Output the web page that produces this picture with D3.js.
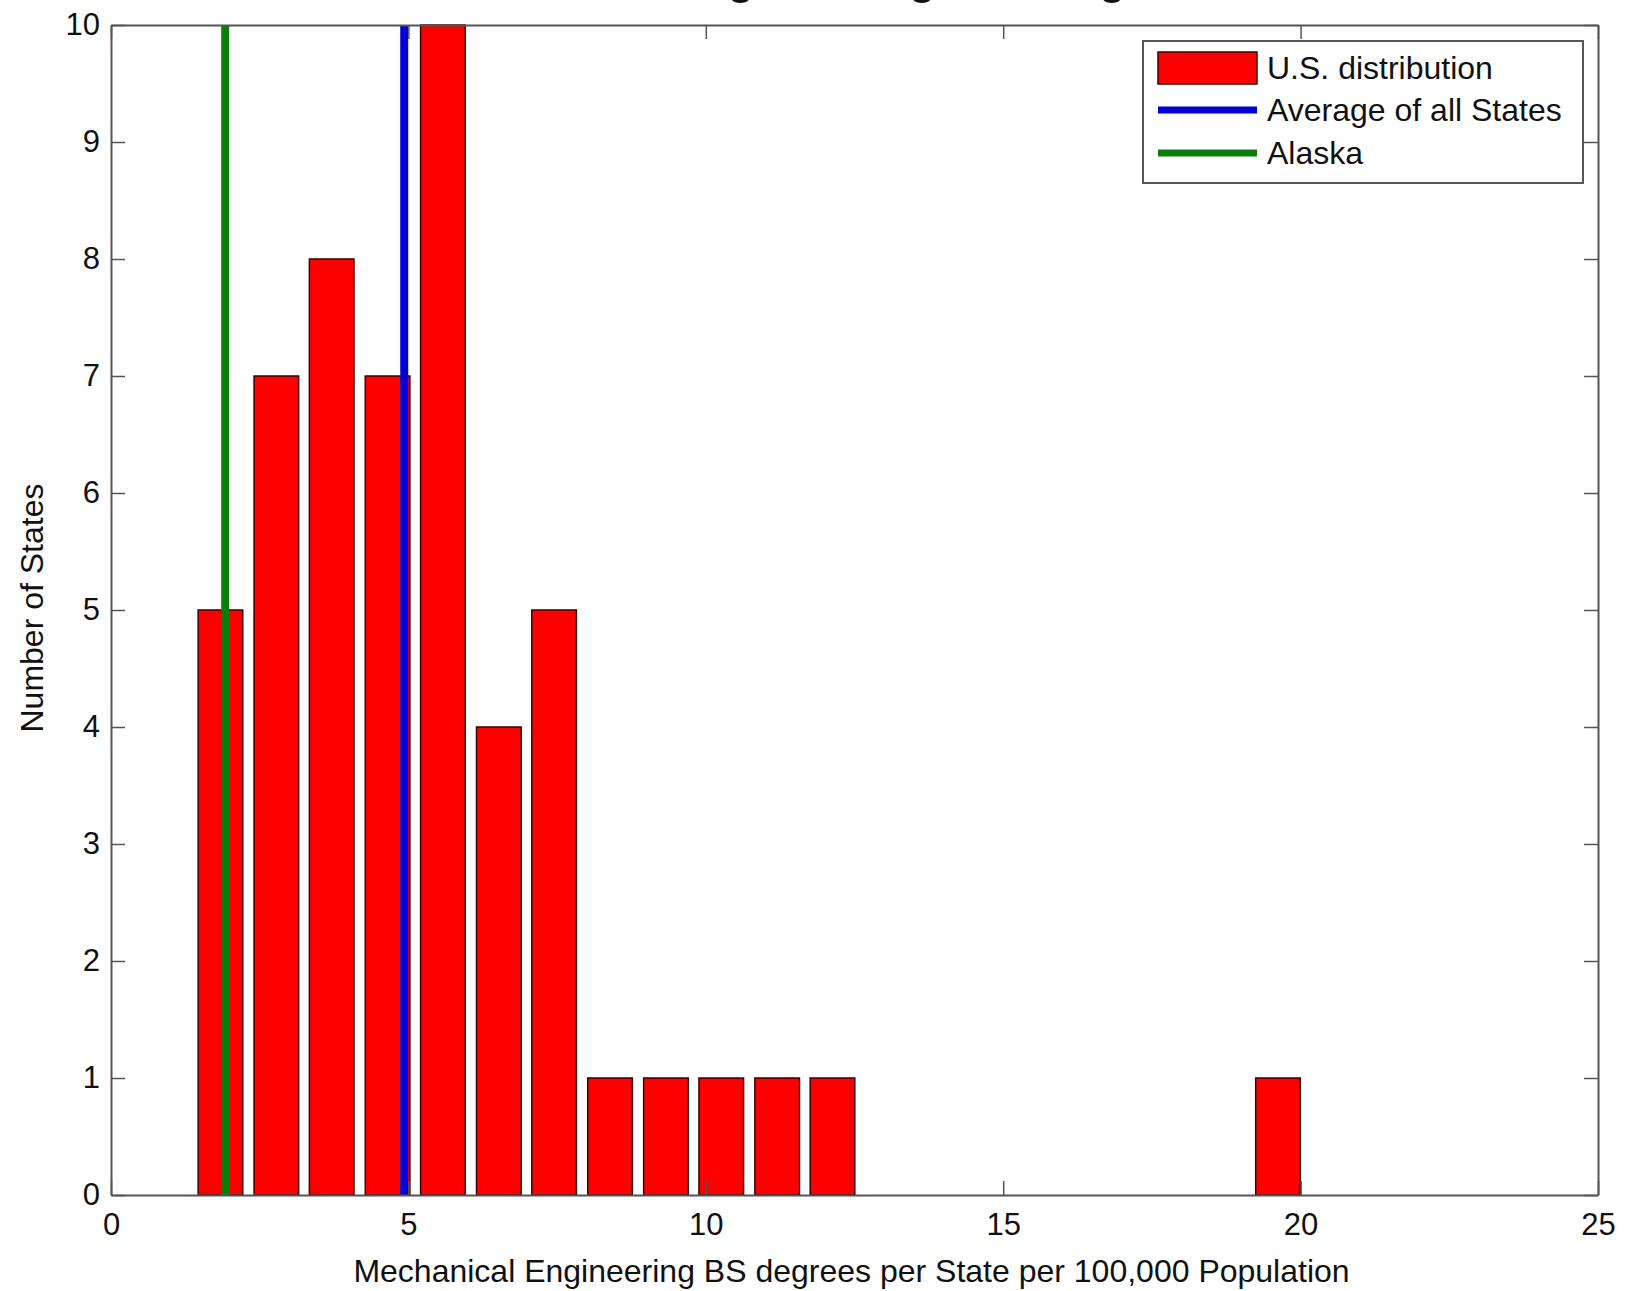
<!DOCTYPE html>
<html>
<head>
<meta charset="utf-8">
<script src="https://cdn.jsdelivr.net/npm/d3@7"></script>
<style>
  body { margin: 0; background: #fff; }
  text { font-family: "Liberation Sans", Arial, Helvetica, sans-serif; fill: #111; }
</style>
</head>
<body>
<script>
// histogram bins (centers) and counts
const binCenters = [1.84, 2.78, 3.71, 4.65, 5.58, 6.52, 7.45, 8.39, 9.33, 10.26,
                    11.20, 12.13, 13.07, 14.00, 14.94, 15.87, 16.81, 17.75, 18.68, 19.62];
const stateCounts = [5, 7, 8, 7, 10, 4, 5, 1, 1, 1, 1, 1, 0, 0, 0, 0, 0, 0, 0, 1];
const barWidthUnits = 0.75;            // matlab hist draws bars at 80% of the bin
const averageAllStates = 4.93;
const alaskaValue = 1.92;
const xTicks = [0, 5, 10, 15, 20, 25];
const yTicks = [0, 1, 2, 3, 4, 5, 6, 7, 8, 9, 10];
const legendLabels = ['U.S. distribution', 'Average of all States', 'Alaska'];

const width = 1627;
const height = 1291;
const plotLeft = 111, plotRight = 1598, plotTop = 25, plotBottom = 1195;
const fontSize = 31;
const labelSize = 32;
const axisColor = '#555';

const svg = d3.select('body')
  .append('svg')
  .attr('width', width)
  .attr('height', height);

// scales
const xScale = d3.scaleLinear().domain([0, 25]).range([plotLeft, plotRight]);
const yScale = d3.scaleLinear().domain([0, 10]).range([plotBottom, plotTop]);

// title, mostly above the top of the picture (only the descenders show)
svg.append('text')
  .attr('x', 392)
  .attr('y', -8)
  .attr('font-size', 51)
  .text('Mechanical Engineering BS Degrees');

// bars
svg.selectAll('rect.bar')
  .data(binCenters.map((c, i) => ({ center: c, count: stateCounts[i] })).filter(d => d.count > 0))
  .enter()
  .append('rect')
  .attr('class', 'bar')
  .attr('x', d => xScale(d.center - barWidthUnits / 2))
  .attr('y', d => yScale(d.count))
  .attr('width', d => xScale(d.center + barWidthUnits / 2) - xScale(d.center - barWidthUnits / 2))
  .attr('height', d => yScale(0) - yScale(d.count))
  .attr('fill', '#ff0000')
  .attr('stroke', '#3a0000')
  .attr('stroke-width', 1.5);

// vertical reference lines
const refLines = [
  { value: averageAllStates, color: '#0000d8' },
  { value: alaskaValue, color: '#0a7d0a' }
];
svg.selectAll('line.ref')
  .data(refLines)
  .enter()
  .append('line')
  .attr('class', 'ref')
  .attr('x1', d => xScale(d.value))
  .attr('x2', d => xScale(d.value))
  .attr('y1', yScale(0))
  .attr('y2', yScale(10))
  .attr('stroke', d => d.color)
  .attr('stroke-width', 8);

// axes, ticks pointing inwards on all four sides
const styleAxis = g => {
  g.selectAll('path.domain').attr('stroke', axisColor).attr('stroke-width', 2);
  g.selectAll('.tick line').attr('stroke', axisColor).attr('stroke-width', 1.5);
  g.selectAll('text').attr('font-size', fontSize).attr('font-family', '"Liberation Sans", Arial, sans-serif').attr('fill', '#111');
};

svg.append('g')
  .attr('transform', `translate(0,${plotBottom})`)
  .call(d3.axisBottom(xScale).tickValues(xTicks).tickSize(-14).tickSizeOuter(0).tickPadding(18))
  .call(styleAxis);

svg.append('g')
  .attr('transform', `translate(0,${plotTop})`)
  .call(d3.axisTop(xScale).tickValues(xTicks).tickSize(-14).tickSizeOuter(0).tickFormat(''))
  .call(styleAxis);

svg.append('g')
  .attr('transform', `translate(${plotLeft},0)`)
  .call(d3.axisLeft(yScale).tickValues(yTicks).tickSize(-14).tickSizeOuter(0).tickPadding(11))
  .call(styleAxis);

svg.append('g')
  .attr('transform', `translate(${plotRight},0)`)
  .call(d3.axisRight(yScale).tickValues(yTicks).tickSize(-14).tickSizeOuter(0).tickFormat(''))
  .call(styleAxis);

// axis titles
svg.append('text')
  .attr('x', (plotLeft + plotRight) / 2 - 3)
  .attr('y', 1282)
  .attr('text-anchor', 'middle')
  .attr('font-size', labelSize)
  .text('Mechanical Engineering BS degrees per State per 100,000 Population');

svg.append('text')
  .attr('transform', `translate(43,${(plotTop + plotBottom) / 2 - 2}) rotate(-90)`)
  .attr('text-anchor', 'middle')
  .attr('font-size', labelSize)
  .text('Number of States');

// legend
const legend = svg.append('g');
legend.append('rect')
  .attr('x', 1143).attr('y', 41)
  .attr('width', 440).attr('height', 142)
  .attr('fill', '#fff')
  .attr('stroke', axisColor)
  .attr('stroke-width', 2);

const legendRows = [68, 110, 153];
legend.append('rect')
  .attr('x', 1158).attr('y', legendRows[0] - 16)
  .attr('width', 99).attr('height', 32)
  .attr('fill', '#ff0000')
  .attr('stroke', '#3a0000')
  .attr('stroke-width', 1.5);

legend.selectAll('line')
  .data(refLines)
  .enter()
  .append('line')
  .attr('x1', 1158).attr('x2', 1257)
  .attr('y1', (d, i) => legendRows[i + 1])
  .attr('y2', (d, i) => legendRows[i + 1])
  .attr('stroke', d => d.color)
  .attr('stroke-width', 7);

legend.selectAll('text')
  .data(legendLabels)
  .enter()
  .append('text')
  .attr('x', 1267)
  .attr('y', (d, i) => legendRows[i] + 11)
  .attr('font-size', labelSize)
  .text(d => d);
</script>
</body>
</html>
